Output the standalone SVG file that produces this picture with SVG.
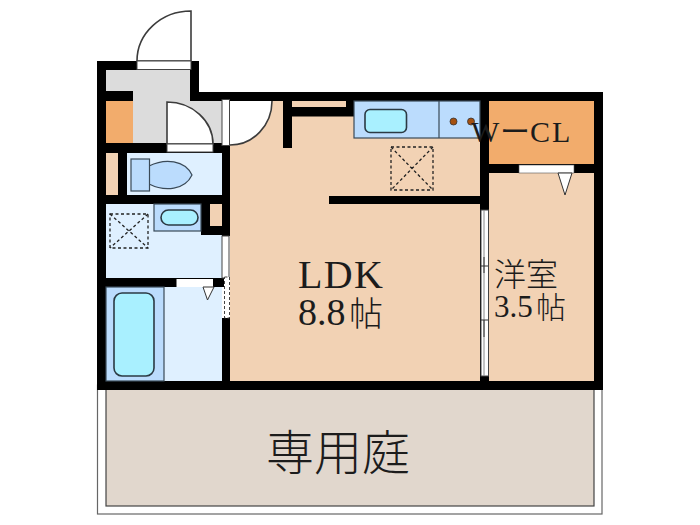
<svg xmlns="http://www.w3.org/2000/svg" width="700" height="525" viewBox="0 0 700 525">
<style>
.w{fill:#000}
.tan{fill:#f2d2b4}
.or{fill:#f2ac6c}
.lb{fill:#dff0ff}
.mb{fill:#bbdcfd;stroke:#3a4a58;stroke-width:1.2}
.cy{fill:#a9f0ff;stroke:#2b3a44;stroke-width:1.6}
.gr{fill:#dcdcdc}
.fr{fill:#fff;stroke:#444;stroke-width:1}
.door{fill:#fff;stroke:#3c3c3c;stroke-width:1.6}
.vent{fill:none;stroke:#222;stroke-width:1.3;stroke-dasharray:3 2.5}
.t{font-family:"Liberation Serif","Noto Sans CJK JP",serif;font-weight:400;fill:#1c1c1c}
.j{font-family:"Noto Sans CJK JP","Liberation Serif",serif;font-weight:300;fill:#1c1c1c}
</style>
<rect width="700" height="525" fill="#fff"/>
<g id="balcony">
<rect x="97.5" y="385" width="504.500" height="129" fill="#fff" stroke="#666" stroke-width="1.2"/>
<rect x="106" y="385" width="488" height="121" fill="#e1d7cd" stroke="#444" stroke-width="1.2"/>
<text class="j" x="338" y="470" font-size="48" text-anchor="middle">専用庭</text>
</g>
<g id="floors">
<rect class="gr" x="106" y="70" width="85" height="22"/>
<rect class="gr" x="133" y="92" width="90" height="53"/>
<rect class="or" x="106" y="101" width="27" height="42"/>
<rect class="tan" x="230" y="100" width="252" height="282"/>
<rect class="tan" x="489" y="172" width="105" height="210"/>
<rect class="or" x="489" y="101" width="105" height="64"/>
<rect class="tan" x="106" y="153" width="12" height="43"/>
<rect class="lb" x="127" y="153" width="95" height="43"/>
<rect class="lb" x="106" y="204" width="116" height="75"/>
<rect class="tan" x="210" y="204" width="12" height="23"/>
<rect class="lb" x="164" y="287" width="58" height="95"/>
</g>
<g id="walls" class="w">
<rect x="97" y="61" width="9" height="329"/>
<rect x="97" y="61" width="102" height="9"/>
<rect x="190" y="61" width="9" height="40"/>
<rect x="190" y="92" width="413" height="9"/>
<rect x="594" y="92" width="9" height="298"/>
<rect x="97" y="381" width="506" height="9"/>
<rect x="106" y="91" width="27" height="10"/>
<rect x="106" y="143" width="124" height="10"/>
<rect x="118" y="153" width="9" height="43"/>
<rect x="106" y="195" width="124" height="9"/>
<rect x="222" y="143" width="8" height="93"/>
<rect x="201" y="204" width="9" height="31"/>
<rect x="201" y="226" width="29" height="9"/>
<rect x="106" y="278" width="118" height="9"/>
<rect x="222" y="318" width="8" height="72"/>
<rect x="283" y="101" width="9" height="47"/>
<rect x="283" y="107" width="72" height="9.500"/>
<rect x="346" y="101" width="9" height="15"/>
<rect x="329" y="196" width="152" height="8"/>
<rect x="480" y="101" width="9" height="280"/>
<rect x="489" y="164" width="105" height="9"/>
</g>
<g id="entry-door">
<path class="door" d="M137 61A54 50 0 0 1 191 11V61Z"/>
<rect class="fr" x="137" y="61" width="54" height="8.500"/>
</g>
<g id="inner-door">
<path class="door" d="M167 144V102A46 42 0 0 1 213 144Z"/>
<rect class="fr" x="167" y="144" width="46" height="8"/>
</g>
<g id="ldk-door">
<path d="M230 101H272A42 44 0 0 1 230 145Z" fill="#fff"/>
<path d="M272 101A42 44 0 0 1 230 145" fill="none" stroke="#3c3c3c" stroke-width="1.600"/>
<rect class="fr" x="222" y="99.500" width="7.500" height="46"/>
</g>
<g id="toilet">
<path d="M149 166C165 158 185 160 192 175C185 190 165 192 149 184Z" fill="#bbdcfd" stroke="#3a4a58" stroke-width="1.200"/>
<rect class="mb" x="131" y="159" width="18.500" height="32"/>
</g>
<g id="washroom">
<rect class="mb" x="154" y="204" width="47" height="27"/>
<rect class="cy" x="161" y="210" width="37" height="15" rx="7.500"/>
<rect class="vent" x="110" y="214" width="38" height="34"/>
<path class="vent" d="M110 214L148 248M148 214L110 248"/>
<rect class="fr" x="222" y="236" width="7" height="42"/>
<rect x="224.500" y="277" width="5" height="41" fill="#fff" stroke="#444" stroke-width="1" stroke-dasharray="3 2"/>
</g>
<g id="bath">
<rect class="mb" x="106" y="287" width="58" height="94"/>
<rect class="cy" x="114" y="293" width="40" height="83" rx="8"/>
<rect x="176.500" y="279" width="36.500" height="8" fill="#fff"/>
<path d="M203 287H214L207.500 300Z" fill="#fff" stroke="#333" stroke-width="1"/>
</g>
<g id="kitchen">
<rect class="mb" x="354" y="101" width="126" height="37"/>
<path d="M439 101V138" stroke="#3a4a58" stroke-width="1.200"/>
<rect class="cy" x="365" y="109.500" width="41.500" height="23" rx="5"/>
<circle cx="453.500" cy="121.500" r="3.500" fill="#a5500f" stroke="#333" stroke-width=".8"/>
<circle cx="471" cy="121.500" r="3.500" fill="#a5500f" stroke="#333" stroke-width=".8"/>
<rect class="vent" x="391" y="147" width="42" height="43"/>
<path class="vent" d="M391 147L433 190M433 147L391 190"/>
</g>
<g id="closet">
<rect x="519" y="165" width="55" height="8" fill="#fff" stroke="#555" stroke-width=".6"/>
<path d="M558 173H572L565 195Z" fill="#fff" stroke="#333" stroke-width="1"/>
<text class="t" y="141.500" font-size="30" x="471 500 530 552">WーCL</text>
</g>
<g id="sliding-door">
<rect class="fr" x="481" y="210" width="7.500" height="166"/>
<path d="M484 210V376" stroke="#888" stroke-width="1"/>
<path d="M484 257V273M484 320V337M481 266H488M481 320H488" stroke="#333" stroke-width="1"/>
</g>
<g id="labels">
<text class="t" x="298" y="288" font-size="40" textLength="85">LDK</text>
<text class="t" x="298" y="325" font-size="38">8.8</text>
<text class="j" x="349" y="326" font-size="34">帖</text>
<text class="j" x="494" y="286" font-size="32">洋室</text>
<text class="t" x="494" y="317" font-size="31">3.5</text>
<text class="j" x="536" y="318" font-size="30">帖</text>
</g>
</svg>
